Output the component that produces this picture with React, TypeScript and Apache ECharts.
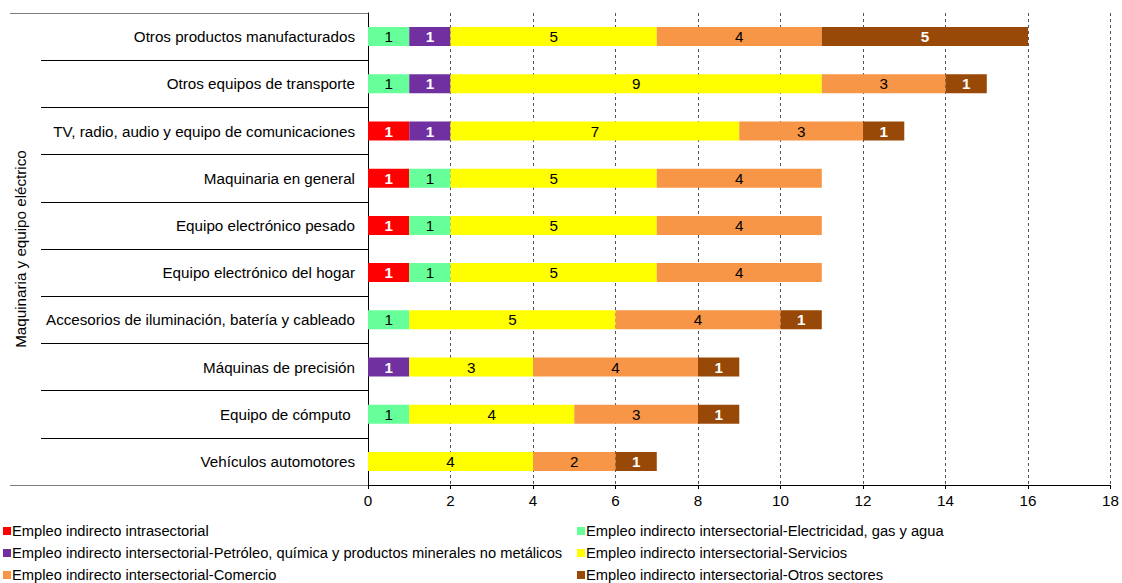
import React, { useEffect, useRef } from "react";
import * as echarts from "echarts";

const categories = [
  "Otros productos manufacturados",
  "Otros equipos de transporte",
  "TV, radio, audio y equipo de comunicaciones",
  "Maquinaria en general",
  "Equipo electrónico pesado",
  "Equipo electrónico del hogar",
  "Accesorios de iluminación, batería y cableado",
  "Máquinas de precisión",
  "Equipo de cómputo ",
  "Vehículos automotores",
];

const seriesNames = [
  "Empleo indirecto intrasectorial",
  "Empleo indirecto intersectorial-Electricidad, gas y agua",
  "Empleo indirecto intersectorial-Petróleo, química y productos minerales no metálicos",
  "Empleo indirecto intersectorial-Servicios",
  "Empleo indirecto intersectorial-Comercio",
  "Empleo indirecto intersectorial-Otros sectores",
];

const intrasectorial = [null, null, 1, 1, 1, 1, null, null, null, null];
const electricidad = [1, 1, null, 1, 1, 1, 1, null, 1, null];
const petroleo = [1, 1, 1, null, null, null, null, 1, null, null];
const servicios = [5, 9, 7, 5, 5, 5, 5, 3, 4, 4];
const comercio = [4, 3, 3, 4, 4, 4, 4, 4, 3, 2];
const otros = [5, 1, 1, null, null, null, 1, 1, 1, 1];

const seriesValues = [intrasectorial, electricidad, petroleo, servicios, comercio, otros];
const colors = ["#FF0000", "#66FF99", "#7030A0", "#FFFF00", "#F79646", "#984807"];
const labelColors = ["#FFFFFF", "#000000", "#FFFFFF", "#000000", "#000000", "#FFFFFF"];

const xTicks = { min: 0, max: 18, interval: 2 };
const yAxisTitle = "Maquinaria y equipo eléctrico";

const FONT = "'Liberation Sans', Arial, sans-serif";
const FS = 15.2;

export default function App() {
  const ref = useRef<HTMLDivElement>(null);
  useEffect(() => {
    if (!ref.current) return;
    const chart = echarts.init(ref.current, null, { renderer: "svg" });
    const legendCommon = {
      orient: "vertical",
      top: 523,
      height: 80,
      padding: 0,
      itemWidth: 8,
      itemHeight: 8,
      itemGap: 6,
      icon: "rect",
      textStyle: { color: "#000", fontSize: 14.7, lineHeight: 16, fontFamily: FONT, padding: [0, 0, 0, -4] },
    };
    const option: any = {
      animation: false,
      textStyle: { fontFamily: FONT },
      grid: { left: 368, right: 10, top: 13, bottom: 98, containLabel: false },
      xAxis: {
        type: "value",
        min: xTicks.min,
        max: xTicks.max,
        interval: xTicks.interval,
        axisLine: { show: true, lineStyle: { color: "#000", width: 1 } },
        axisTick: { show: true, length: 4, lineStyle: { color: "#000" } },
        axisLabel: { color: "#000", fontSize: FS, fontFamily: FONT, margin: 8 },
        splitLine: { show: true, lineStyle: { color: "#555", type: [3, 3], width: 1 } },
      },
      yAxis: [
        {
          type: "category",
          data: categories,
          inverse: true,
          name: yAxisTitle,
          nameLocation: "middle",
          nameGap: 340,
          nameRotate: 90,
          nameTextStyle: { color: "#000", fontSize: FS, fontFamily: FONT },
          axisLine: { show: true, lineStyle: { color: "#000", width: 1 } },
          axisTick: { show: true, length: 327, lineStyle: { color: "#000", width: 1 } },
          axisLabel: { color: "#000", fontSize: FS, fontFamily: FONT, margin: 13 },
          splitLine: { show: false },
        },
        {
          type: "value",
          min: 0,
          max: 1,
          interval: 1,
          position: "left",
          axisLine: { show: false },
          axisTick: { show: true, length: 358, lineStyle: { color: "#7f7f7f", width: 1 } },
          axisLabel: { show: false },
          splitLine: { show: false },
        },
      ],
      legend: [
        { ...legendCommon, left: 3, data: [seriesNames[0], seriesNames[2], seriesNames[4]] },
        { ...legendCommon, left: 577, data: [seriesNames[1], seriesNames[3], seriesNames[5]] },
      ],
      series: seriesNames.map((name, i) => ({
        name,
        type: "bar",
        stack: "total",
        barWidth: 19,
        yAxisIndex: 0,
        itemStyle: { color: colors[i] },
        label: {
          show: true,
          position: "inside",
          color: labelColors[i],
          fontSize: FS,
          fontFamily: FONT,
          fontWeight: labelColors[i] === "#FFFFFF" ? "bold" : "normal",
        },
        data: seriesValues[i],
      })),
    };
    chart.setOption(option);
    return () => chart.dispose();
  }, []);
  return <div ref={ref} style={{ width: 1122, height: 583, position: "absolute", left: 0, top: 0 }} />;
}
